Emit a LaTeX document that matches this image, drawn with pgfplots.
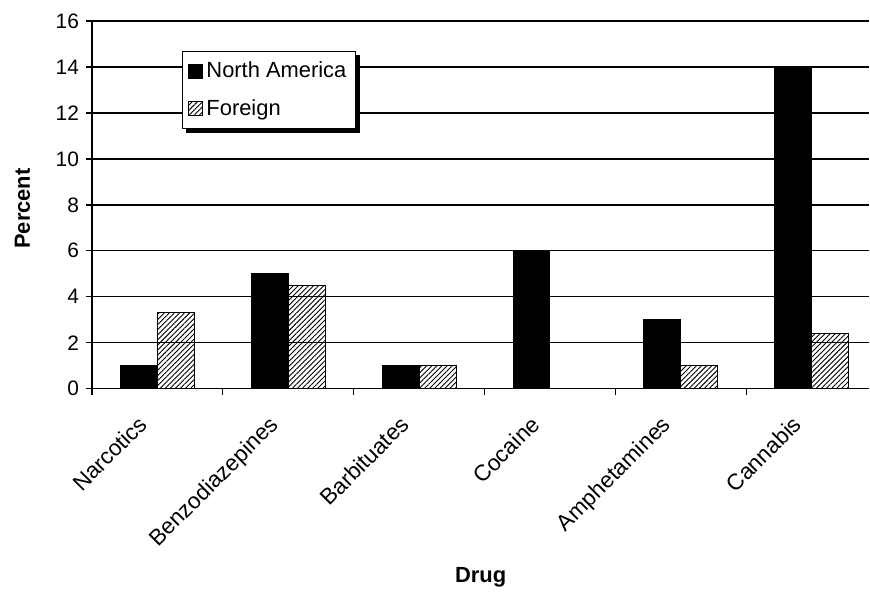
\documentclass[border=0pt]{standalone}
\usepackage{fontspec}
\setmainfont{Liberation Sans}
\usepackage{pgfplots}
\pgfplotsset{compat=1.18}
\usetikzlibrary{patterns.meta}
\pgfdeclarelayer{bg}
\pgfsetlayers{bg,main}

\begin{document}
\begin{tikzpicture}
\begin{axis}[
    name=ax,
    ybar, ybar=0pt,
    bar width=18.5bp,
    scale only axis,
    width=389bp, height=184bp,
    xmin=-0.5, xmax=5.44,
    ymin=0, ymax=16,
    ytick={0,2,...,16},
    xtick={0,...,5},
    xticklabels={Narcotics,Benzodiazepines,Barbituates,Cocaine,Amphetamines,Cannabis},
    minor xtick={-0.5,0.5,...,5.5},
    minor tick length=3bp,
    major tick length=3bp,
    tick align=outside,
    axis x line*=bottom,
    axis y line*=left,
    axis line style={-, line width=0.7bp, black},
    every tick/.style={black, line width=0.7bp},
    major x tick style={draw=none},
    ymajorgrids,
    major grid style={black, line width=0.7bp},
    /pgf/number format/assume math mode=true,
    yticklabel style={font=\fontsize{10.5}{12}\selectfont},
    xticklabel style={font=\fontsize{11.3}{13}\selectfont, xshift=-10.25bp, yshift=-5bp, rotate=45, anchor=north east},
    xlabel={\bfseries Drug},
    ylabel={\bfseries Percent},
    label style={font=\fontsize{11}{13}\selectfont},
    xlabel style={at={(axis description cs:0.5,-0.514)}, anchor=center},
    ylabel style={at={(axis description cs:-0.0893,0.49)}, anchor=center},
    legend cell align=left,
    legend style={name=leg, at={(axis description cs:0.1157,0.918)}, anchor=north west,
        draw=black, line width=0.6bp, fill=white,
        font=\fontsize{11}{13}\selectfont,
        inner xsep=3bp, inner ysep=3bp, row sep=5.5bp,
        nodes={inner xsep=1.5bp}},
    legend image code/.code={\draw[#1, line width=0.5bp] (0bp,-3.5bp) rectangle (7bp,3.5bp);},
]
\addplot[fill=black, draw=black, line width=0.5bp] coordinates {
    (0,1) (1,5) (2,1) (3,6) (4,3) (5,14)
};
\addplot[draw=black, line width=0.5bp, pattern={Lines[angle=45, distance=1.8bp, line width=0.45bp]}, pattern color=black] coordinates {
    (0,3.3) (1,4.5) (2,1) (3,0) (4,1) (5,2.4)
};
\legend{North America, Foreign}
\end{axis}
\begin{pgfonlayer}{bg}
\fill[black] ([xshift=2bp,yshift=-2bp]leg.south west) rectangle ([xshift=2bp,yshift=-2bp]leg.north east);
\end{pgfonlayer}
\path (ax.south west) ++(-46bp,194.5bp);
\path (ax.south west) ++(389bp,-101bp);
\end{tikzpicture}
\end{document}
